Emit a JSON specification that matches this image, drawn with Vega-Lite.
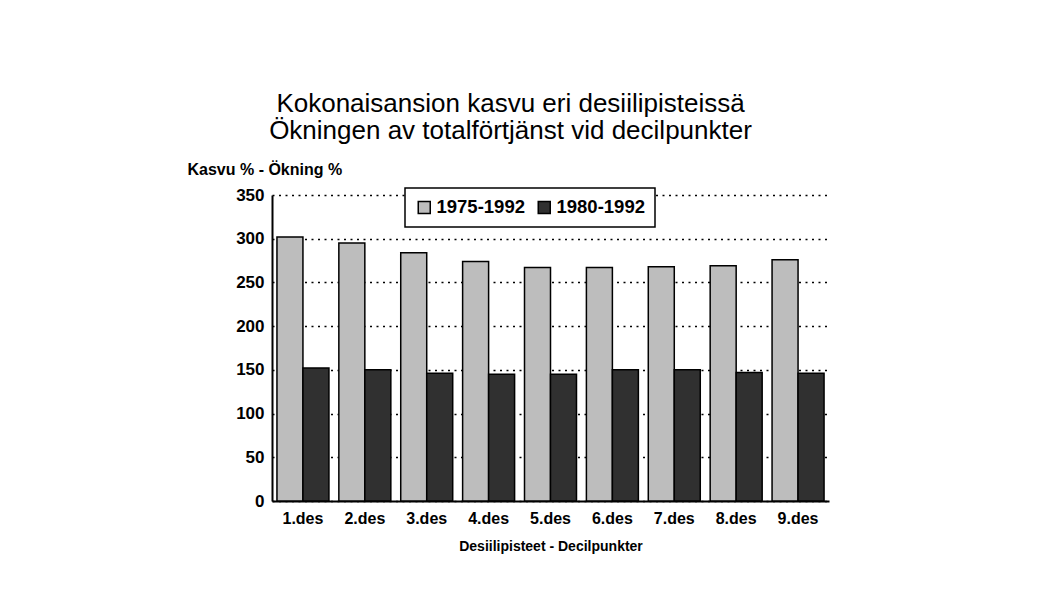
{
  "$schema": "https://vega.github.io/schema/vega-lite/v6.json",
  "width": 557,
  "height": 306,
  "autosize": {"type": "none"},
  "padding": {"left": 272, "top": 195, "right": 212, "bottom": 88},
  "background": "white",
  "config": {
    "font": "Liberation Sans",
    "view": {"stroke": null}
  },
  "title": {
    "text": ["Kokonaisansion kasvu eri desiilipisteissä", "Ökningen av totalförtjänst vid decilpunkter"],
    "fontSize": 26,
    "fontWeight": "normal",
    "lineHeight": 27,
    "color": "black",
    "anchor": "middle",
    "frame": "group",
    "dx": -40,
    "offset": 17
  },
  "data": {
    "values": [
      {"des": "1.des", "period": "1975-1992", "value": 302},
      {"des": "2.des", "period": "1975-1992", "value": 295},
      {"des": "3.des", "period": "1975-1992", "value": 284},
      {"des": "4.des", "period": "1975-1992", "value": 274},
      {"des": "5.des", "period": "1975-1992", "value": 267},
      {"des": "6.des", "period": "1975-1992", "value": 267},
      {"des": "7.des", "period": "1975-1992", "value": 268},
      {"des": "8.des", "period": "1975-1992", "value": 269},
      {"des": "9.des", "period": "1975-1992", "value": 276},
      {"des": "1.des", "period": "1980-1992", "value": 152},
      {"des": "2.des", "period": "1980-1992", "value": 150},
      {"des": "3.des", "period": "1980-1992", "value": 146},
      {"des": "4.des", "period": "1980-1992", "value": 145},
      {"des": "5.des", "period": "1980-1992", "value": 145},
      {"des": "6.des", "period": "1980-1992", "value": 150},
      {"des": "7.des", "period": "1980-1992", "value": 150},
      {"des": "8.des", "period": "1980-1992", "value": 147},
      {"des": "9.des", "period": "1980-1992", "value": 146}
    ]
  },
  "mark": {"type": "bar", "stroke": "black", "strokeWidth": 1.5},
  "encoding": {
    "x": {
      "field": "des",
      "type": "nominal",
      "sort": null,
      "scale": {"paddingInner": 0.16, "paddingOuter": 0.08},
      "axis": {
        "title": "Desiilipisteet - Decilpunkter",
        "titleFontSize": 14,
        "titleFontWeight": "bold",
        "titleColor": "black",
        "titlePadding": 13,
        "labelAngle": 0,
        "labelFontSize": 16,
        "labelFontWeight": "bold",
        "labelColor": "black",
        "labelPadding": 9,
        "ticks": false,
        "domainColor": "black",
        "domainWidth": 2
      }
    },
    "xOffset": {"field": "period", "type": "nominal"},
    "y": {
      "field": "value",
      "type": "quantitative",
      "scale": {"domain": [0, 350]},
      "axis": {
        "values": [0, 50, 100, 150, 200, 250, 300, 350],
        "title": "Kasvu % - Ökning %",
        "titleAngle": 0,
        "titleAlign": "left",
        "titleBaseline": "middle",
        "titleX": -85,
        "titleY": -26,
        "titleFontSize": 16,
        "titleFontWeight": "bold",
        "titleColor": "black",
        "labelFontSize": 17,
        "labelFontWeight": "bold",
        "labelColor": "black",
        "labelPadding": 8,
        "ticks": false,
        "domainColor": "black",
        "domainWidth": 2,
        "grid": true,
        "gridColor": "black",
        "gridDash": [2, 4.5],
        "gridWidth": 1.5
      }
    },
    "fill": {
      "field": "period",
      "type": "nominal",
      "scale": {"domain": ["1975-1992", "1980-1992"], "range": ["#bdbdbd", "#303030"]},
      "legend": {
        "title": null,
        "orient": "none",
        "legendX": 133,
        "legendY": -7,
        "direction": "horizontal",
        "fillColor": "white",
        "strokeColor": "black",
        "padding": 10,
        "symbolType": "square",
        "symbolSize": 144,
        "symbolStrokeColor": "black",
        "symbolStrokeWidth": 1.5,
        "labelFontSize": 18.5,
        "labelFontWeight": "bold",
        "labelColor": "black",
        "labelOffset": 3,
        "columnPadding": 10,
        "encode": {"legend": {"update": {"strokeWidth": {"value": 1.5}}}}
      }
    }
  }
}
